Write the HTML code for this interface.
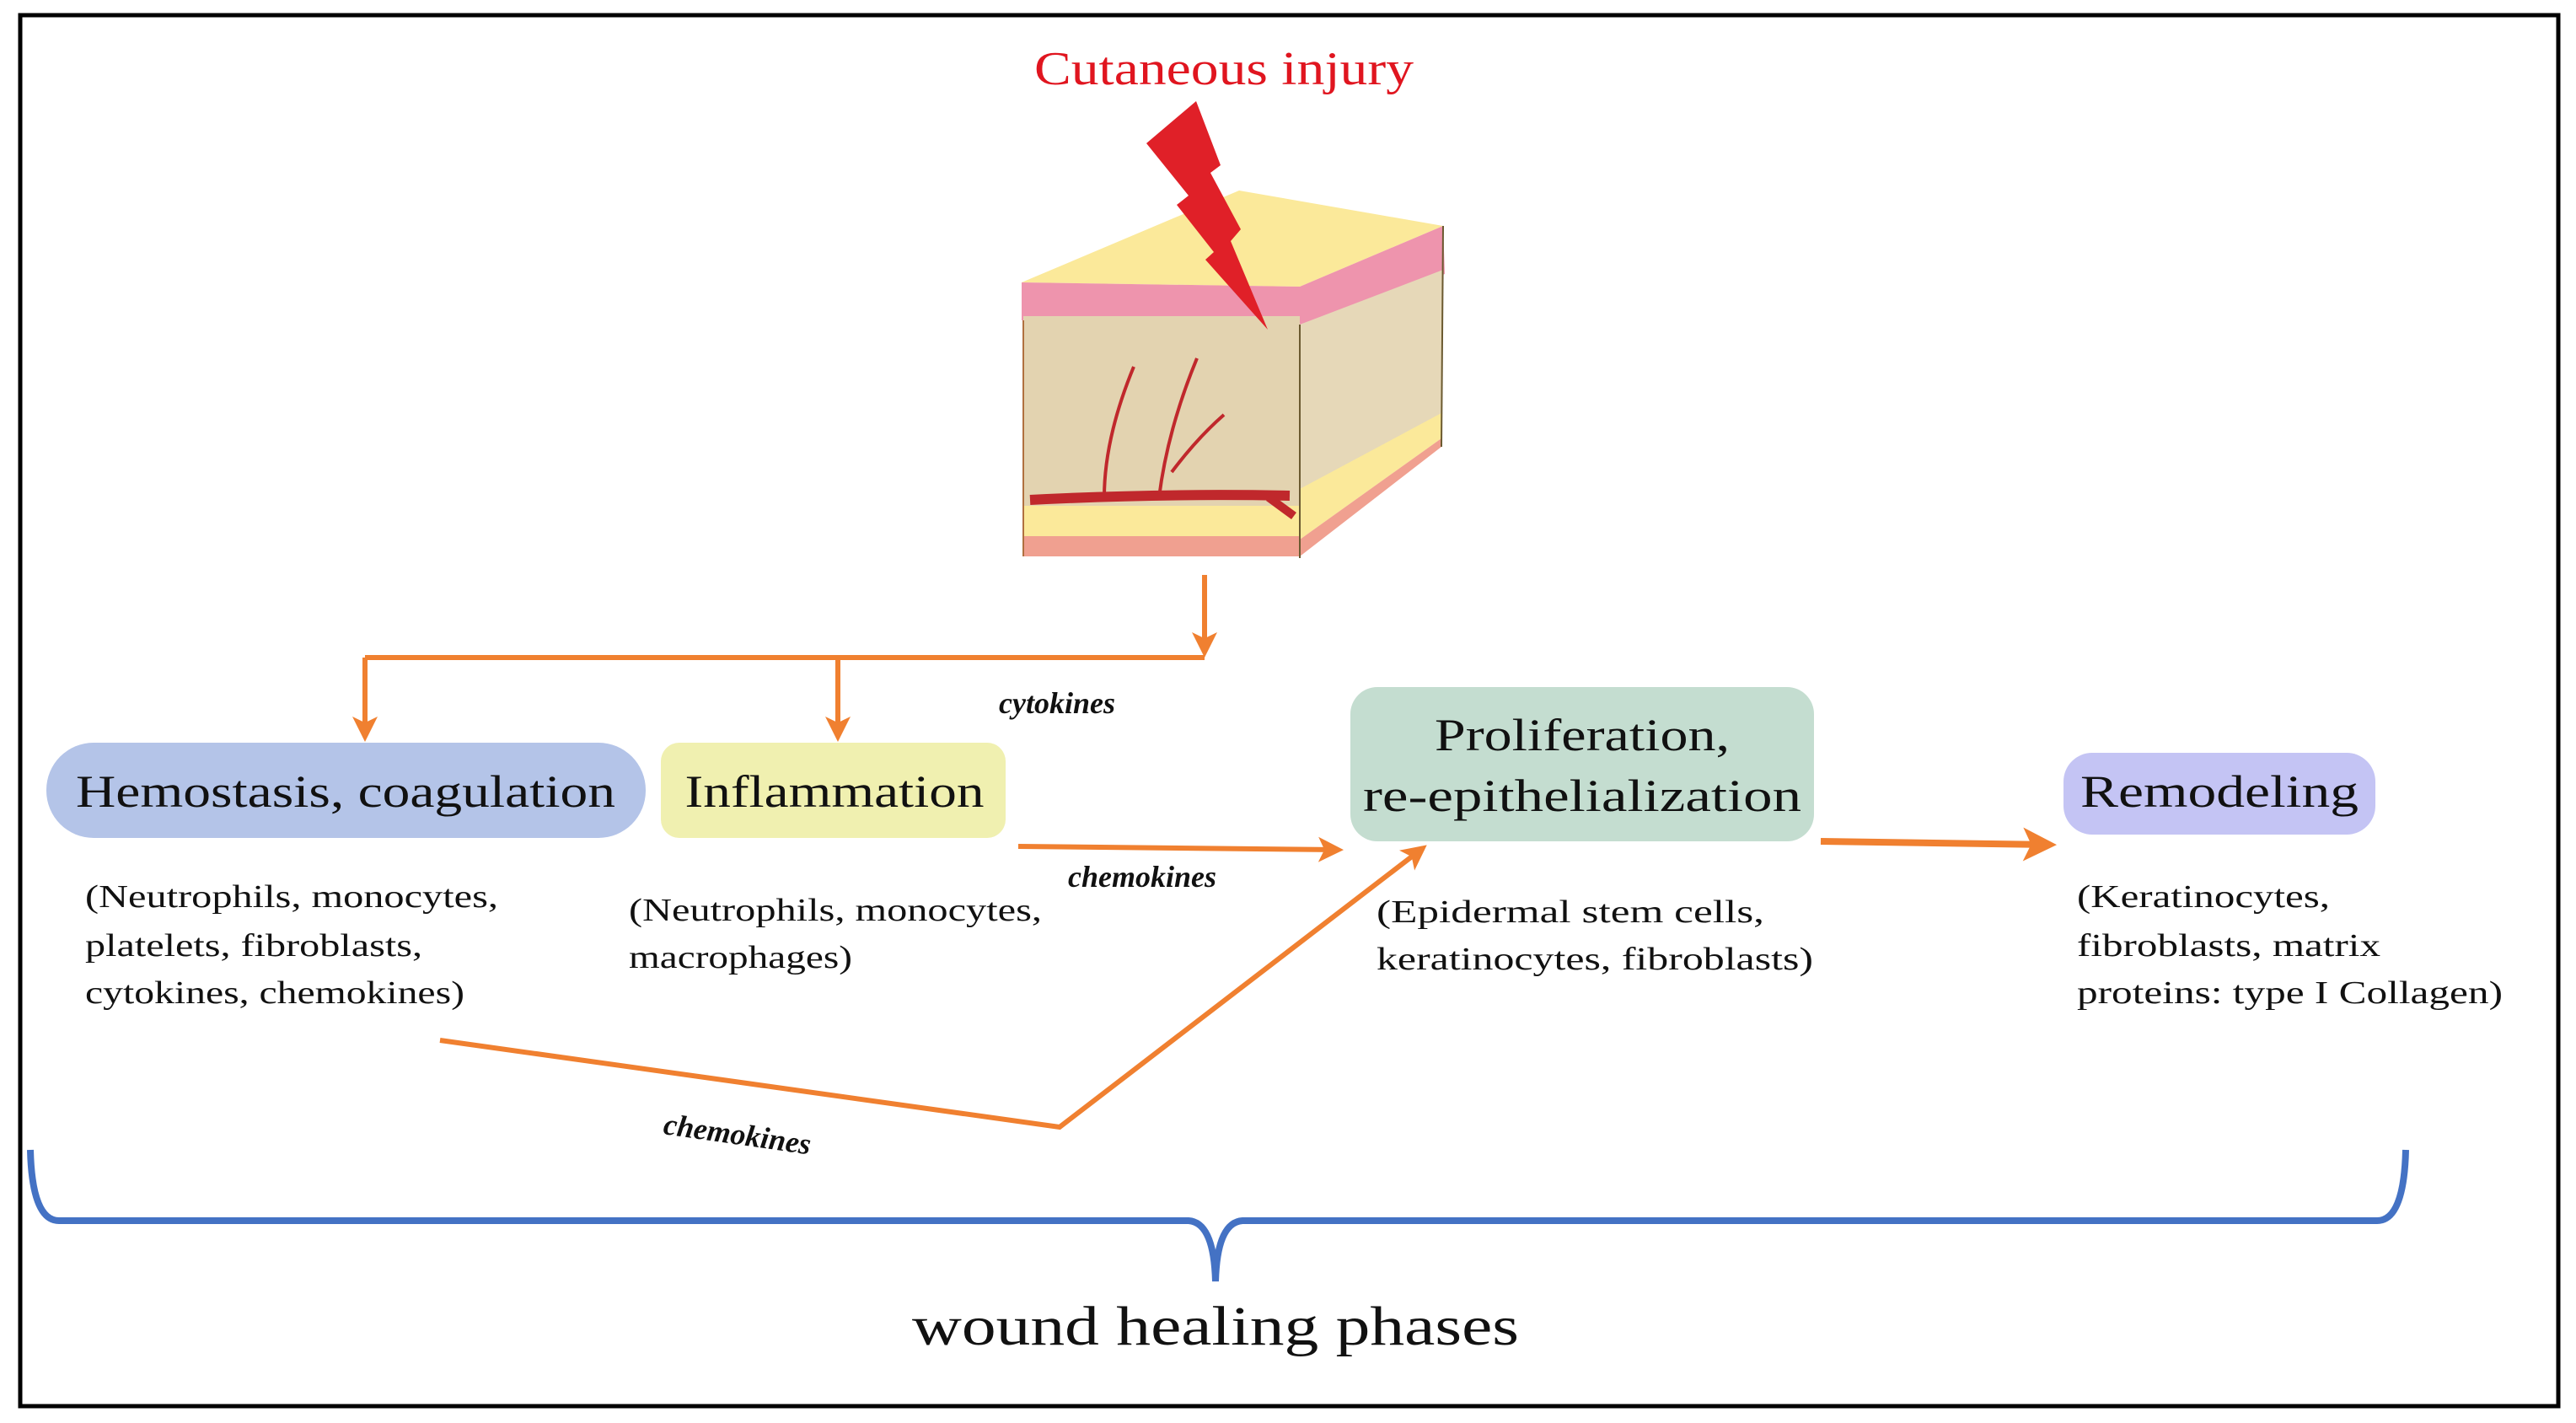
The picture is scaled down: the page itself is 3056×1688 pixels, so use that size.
<!DOCTYPE html>
<html><head><meta charset="utf-8"><style>
html,body{margin:0;padding:0;background:#fff;}
svg{display:block;}
text{font-family:"Liberation Serif",serif;fill:#111;}
</style></head><body>
<svg width="3056" height="1688" viewBox="0 0 3056 1688" xmlns="http://www.w3.org/2000/svg">
<defs>
<marker id="ah" markerWidth="5" markerHeight="5" refX="4" refY="2.5" orient="auto" markerUnits="strokeWidth">
<path d="M0,0 L5,2.5 L0,5 L1.2,2.5 Z" fill="#f08030"/></marker>
</defs>
<rect x="0" y="0" width="3056" height="1688" fill="#fff"/>
<rect x="24" y="18" width="3011" height="1650" fill="none" stroke="#000" stroke-width="5"/>

<text x="1452" y="100" text-anchor="middle" font-size="56" style="fill:#e0151f" textLength="450" lengthAdjust="spacingAndGlyphs">Cutaneous injury</text>

<!-- skin block -->
<polygon points="1212,335 1470,226 1712,268 1542,340" fill="#fbe99a"/>
<polygon points="1212,335 1542,340 1542,385 1212,380" fill="#ee94ad"/>
<polygon points="1542,340 1712,268 1714,325 1542,385" fill="#ee94ad"/>
<rect x="1214" y="375" width="328" height="230" fill="#e3d3b0"/>
<polygon points="1542,385 1712,320 1710,500 1542,580" fill="#e6d8b8"/>
<rect x="1214" y="600" width="328" height="38" fill="#fbe99a"/>
<rect x="1214" y="636" width="328" height="24" fill="#f0a090"/>
<polygon points="1542,580 1710,490 1710,520 1542,640" fill="#fbe99a"/>
<polygon points="1542,640 1710,520 1710,530 1542,660" fill="#f0a090"/>
<line x1="1542" y1="385" x2="1542" y2="662" stroke="#6b5a30" stroke-width="2"/>
<line x1="1712" y1="268" x2="1710" y2="530" stroke="#6b5a30" stroke-width="2"/>
<line x1="1214" y1="380" x2="1214" y2="660" stroke="#b07040" stroke-width="2"/>
<!-- vessels -->
<path d="M1222,593 Q1380,585 1530,588" stroke="#c0282c" stroke-width="12" fill="none"/>
<path d="M1505,590 L1535,612" stroke="#c0282c" stroke-width="10" fill="none"/>
<path d="M1310,590 Q1310,520 1345,435" stroke="#c0282c" stroke-width="4" fill="none"/>
<path d="M1375,590 Q1385,510 1420,425" stroke="#c0282c" stroke-width="4" fill="none"/>
<path d="M1390,560 Q1420,520 1452,492" stroke="#c0282c" stroke-width="4" fill="none"/>
<!-- lightning -->
<polygon points="1419,120 1448,196 1436,205 1472,272 1460,286 1504,391 1430,308 1440,299 1396,243 1410,232 1360,170" fill="#e02028"/>

<!-- orange connectors -->
<g stroke="#f08030" stroke-width="6" fill="none">
<line x1="1429" y1="682" x2="1429" y2="774" marker-end="url(#ah)"/>
<polyline points="433,780 1429,780"/>
<line x1="433" y1="780" x2="433" y2="874" marker-end="url(#ah)"/>
<line x1="994" y1="780" x2="994" y2="874" marker-end="url(#ah)"/>
<line x1="1208" y1="1004" x2="1588" y2="1008" marker-end="url(#ah)"/>
<line x1="2160" y1="998" x2="2432" y2="1002" stroke-width="8" marker-end="url(#ah)"/>
<polyline points="522,1234 1257,1337 1688,1006" marker-end="url(#ah)"/>
</g>

<text x="1185" y="846" font-size="36" font-weight="bold" font-style="italic">cytokines</text>
<text x="1267" y="1052" font-size="36" font-weight="bold" font-style="italic">chemokines</text>
<text x="786" y="1345" font-size="36" font-weight="bold" font-style="italic" transform="rotate(8 786 1345)">chemokines</text>

<!-- boxes -->
<rect x="55" y="881" width="711" height="113" rx="56" fill="#b4c4e8"/>
<text x="410" y="957" text-anchor="middle" font-size="54" textLength="640" lengthAdjust="spacingAndGlyphs">Hemostasis, coagulation</text>
<rect x="784" y="881" width="409" height="113" rx="22" fill="#f0f0b0"/>
<text x="990" y="957" text-anchor="middle" font-size="54" textLength="355" lengthAdjust="spacingAndGlyphs">Inflammation</text>
<rect x="1602" y="815" width="550" height="183" rx="32" fill="#c4ddd0"/>
<text x="1877" y="890" text-anchor="middle" font-size="54" textLength="350" lengthAdjust="spacingAndGlyphs">Proliferation,</text>
<text x="1877" y="962" text-anchor="middle" font-size="54" textLength="520" lengthAdjust="spacingAndGlyphs">re-epithelialization</text>
<rect x="2448" y="893" width="370" height="97" rx="34" fill="#c4c4f4"/>
<text x="2633" y="957" text-anchor="middle" font-size="54" textLength="330" lengthAdjust="spacingAndGlyphs">Remodeling</text>

<!-- descriptions -->
<g font-size="38">
<text x="101" y="1076" textLength="490" lengthAdjust="spacingAndGlyphs">(Neutrophils, monocytes,</text>
<text x="101" y="1134" textLength="400" lengthAdjust="spacingAndGlyphs">platelets, fibroblasts,</text>
<text x="101" y="1190" textLength="450" lengthAdjust="spacingAndGlyphs">cytokines, chemokines)</text>
<text x="746" y="1092" textLength="490" lengthAdjust="spacingAndGlyphs">(Neutrophils, monocytes,</text>
<text x="746" y="1148" textLength="265" lengthAdjust="spacingAndGlyphs">macrophages)</text>
<text x="1633" y="1094" textLength="460" lengthAdjust="spacingAndGlyphs">(Epidermal stem cells,</text>
<text x="1633" y="1150" textLength="518" lengthAdjust="spacingAndGlyphs">keratinocytes, fibroblasts)</text>
<text x="2464" y="1076" textLength="300" lengthAdjust="spacingAndGlyphs">(Keratinocytes,</text>
<text x="2464" y="1134" textLength="360" lengthAdjust="spacingAndGlyphs">fibroblasts, matrix</text>
<text x="2464" y="1190" textLength="505" lengthAdjust="spacingAndGlyphs">proteins: type I Collagen)</text>
</g>

<!-- brace -->
<path d="M36,1364 Q38,1448 70,1448 L1410,1448 Q1440,1450 1442,1520 Q1444,1450 1474,1448 L2820,1448 Q2852,1448 2854,1364" stroke="#4472c4" stroke-width="8" fill="none"/>
<text x="1442" y="1595" text-anchor="middle" font-size="66" textLength="720" lengthAdjust="spacingAndGlyphs">wound healing phases</text>
</svg>
</body></html>
